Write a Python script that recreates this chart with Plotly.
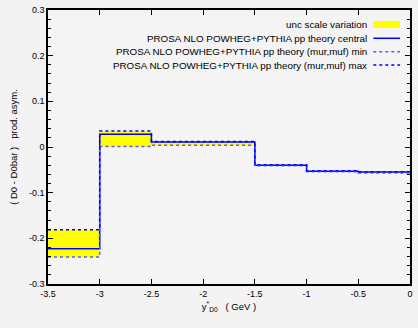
import plotly.graph_objects as go

# ---- data ----
bin_edges = [-3.5, -3.0, -2.5, -2.0, -1.5, -1.0, -0.5, 0.0]
central = [-0.223, 0.028, 0.011, 0.011, -0.040, -0.053, -0.055]
val_min = [-0.241, 0.001, 0.004, 0.004, -0.041, -0.054, -0.057]
val_max = [-0.181, 0.035, 0.012, 0.012, -0.039, -0.052, -0.054]

legend_labels = [
    "unc scale variation",
    "PROSA NLO POWHEG+PYTHIA pp theory central",
    "PROSA NLO POWHEG+PYTHIA pp theory (mur,muf) min",
    "PROSA NLO POWHEG+PYTHIA pp theory (mur,muf) max",
]

y_tickvals = [-0.3, -0.2, -0.1, 0.0, 0.1, 0.2, 0.3]
y_ticktext = ["-0.3", "-0.2", "-0.1", "0", "0.1", "0.2", "0.3"]
x_tickvals = [-3.5, -3.0, -2.5, -2.0, -1.5, -1.0, -0.5, 0.0]
x_ticktext = ["-3.5", "-3", "-2.5", "-2", "-1.5", "-1", "-0.5", "0"]

def step(vals):
    return list(vals) + [vals[-1]]

FONT = "Liberation Sans, Arial, sans-serif"
YELLOW = "#ffff00"
BLUE = "#0000ff"
LBLUE = "#5a5aff"

fig = go.Figure()
# uncertainty band
fig.add_trace(go.Scatter(x=bin_edges, y=step(val_min), mode="lines", line_shape="hv",
                         line=dict(width=0, color=YELLOW), showlegend=False, hoverinfo="skip"))
fig.add_trace(go.Scatter(x=bin_edges, y=step(val_max), mode="lines", line_shape="hv",
                         line=dict(width=0, color=YELLOW), fill="tonexty", fillcolor=YELLOW,
                         showlegend=False, hoverinfo="skip"))
# central
fig.add_trace(go.Scatter(x=bin_edges, y=step(central), mode="lines", line_shape="hv",
                         line=dict(width=1.5, color=BLUE), showlegend=False))
# min / max
fig.add_trace(go.Scatter(x=bin_edges, y=step(val_min), mode="lines", line_shape="hv",
                         line=dict(width=1.5, color=LBLUE, dash="3px,3px"), showlegend=False))
fig.add_trace(go.Scatter(x=bin_edges, y=step(val_max), mode="lines", line_shape="hv",
                         line=dict(width=1.5, color=BLUE, dash="3px,3px"), showlegend=False))

# ---- legend drawn manually (text right-aligned, symbol on the right) ----
W, H = 418, 328
ml, mr, mt, mb = 48, 5, 8, 44
pw, ph = W - ml - mr, H - mt - mb

def px_x(px):
    return (px - ml) / pw

def px_y(py):
    return 1 - (py - mt) / ph

rows_y = [22.5, 36.5, 50, 63.5]
text_right = 372
sym_l, sym_r = 376, 403
for i, lab in enumerate(legend_labels):
    fig.add_annotation(x=px_x(text_right), y=px_y(rows_y[i]), xref="paper", yref="paper",
                       text=lab, showarrow=False, xanchor="right", yanchor="middle",
                       font=dict(family=FONT, size=9.8, color="#000000"))
fig.add_shape(type="rect", xref="paper", yref="paper",
              x0=px_x(sym_l), x1=px_x(sym_r), y0=px_y(rows_y[0] - 3.5), y1=px_y(rows_y[0] + 3.5),
              fillcolor=YELLOW, line=dict(width=0))
styles = [(BLUE, "solid"), (LBLUE, "3px,3px"), (BLUE, "3px,3px")]
for (c, d), ry in zip(styles, rows_y[1:]):
    fig.add_shape(type="line", xref="paper", yref="paper",
                  x0=px_x(sym_l), x1=px_x(sym_r), y0=px_y(ry), y1=px_y(ry),
                  line=dict(color=c, width=1.5, dash=d))

fig.update_layout(
    width=W, height=H,
    margin=dict(l=ml, r=mr, t=mt, b=mb),
    paper_bgcolor="#f3f3f3", plot_bgcolor="#f4f4f4",
    font=dict(family=FONT, size=9, color="#000000"),
    showlegend=False,
)
fig.update_xaxes(range=[-3.5, 0], tickvals=x_tickvals, ticktext=x_ticktext,
                 ticks="inside", ticklen=5, tickcolor="#000", tickwidth=1,
                 showline=True, linecolor="#000", linewidth=1.5, mirror="ticks",
                 showgrid=False, zeroline=False,
                 title=dict(text="y<sup>*</sup><sub>D0</sub>   ( GeV )", standoff=6,
                            font=dict(family=FONT, size=9.5)))
fig.update_yaxes(range=[-0.3, 0.3], tickvals=y_tickvals, ticktext=y_ticktext,
                 ticks="inside", ticklen=5, tickcolor="#000", tickwidth=1,
                 minor=dict(ticks="inside", ticklen=3, dtick=0.02, tick0=0, tickcolor="#000", showgrid=False),
                 showline=True, linecolor="#000", linewidth=1.5, mirror="ticks",
                 showgrid=False, zeroline=False,
                 title=dict(text="( D0 - D0bar )   prod. asym.", standoff=10,
                            font=dict(family=FONT, size=9.5)))

fig.write_html("out.html")
